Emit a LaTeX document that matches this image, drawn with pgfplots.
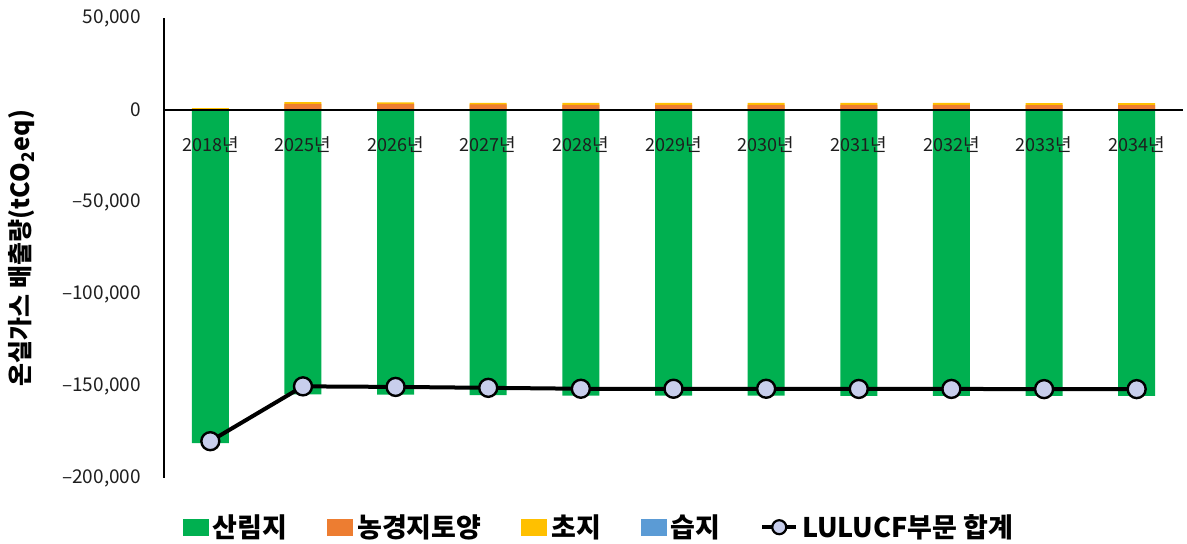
\documentclass[border=0pt]{standalone}
\usepackage{fontspec}
\setmainfont{Noto Sans CJK KR}
\usepackage{pgfplots}
\pgfplotsset{compat=1.18}
\usepackage{pgfplotstable}
\definecolor{cgreen}{HTML}{00B050}
\definecolor{corange}{HTML}{ED7D31}
\definecolor{cyellow}{HTML}{FFC000}
\definecolor{cblue}{HTML}{5B9BD5}
\definecolor{clav}{RGB}{200,206,236}
\definecolor{cgrid}{RGB}{222,222,222}
\definecolor{ctext}{RGB}{30,30,30}

\pgfplotsset{
  base/.style={
    at={(82pt,33pt)}, anchor=south west,
    scale only axis, width=509.5pt, height=230pt,
    xmin=-0.5, xmax=10.5, ymin=-200000, ymax=50000,
    major tick length=0pt,
    xtick={0,...,10},
    ytick={-200000,-150000,-100000,-50000,0,50000},
    scaled y ticks=false,
    clip=false,
  }
}

\pgfplotstableread{
x g o y b t
0 -181000 300 700 0 -180000
1 -154500 3300 1000 0 -150200
2 -154700 3300 900 0 -150500
3 -154900 3000 900 0 -151000
4 -155300 2800 1000 0 -151500
5 -155300 2800 1000 0 -151500
6 -155300 2800 1000 0 -151500
7 -155400 2800 1000 0 -151600
8 -155400 2800 1000 0 -151600
9 -155400 2600 1100 0 -151700
10 -155400 2600 1100 0 -151700
}\data

\begin{document}
\begin{tikzpicture}
\path[use as bounding box] (0,0) rectangle (593.5pt,272pt);
\begin{axis}[base,
  axis lines=none,
  xticklabels={}, yticklabels={},
  ymajorgrids, grid style={cgrid, dashed, line width=0.6pt},
]
\addplot[ybar, bar width=18.5pt, bar shift=0pt, fill=cyellow, draw=none]
  table[x=x, y expr=\thisrow{o}+\thisrow{y}+\thisrow{b}] {\data};
\addplot[ybar, bar width=18.5pt, bar shift=0pt, fill=corange, draw=none]
  table[x=x, y=o] {\data};
\addplot[ybar, bar width=18.5pt, bar shift=0pt, fill=cgreen, draw=none]
  table[x=x, y=g] {\data};
\end{axis}
\begin{axis}[base,
  axis x line=middle, axis y line=left,
  axis line style={-, black, line width=0.8pt},
  xticklabels={2018년,2025년,2026년,2027년,2028년,2029년,2030년,2031년,2032년,2033년,2034년},
  xticklabel style={font=\fontsize{9}{9}\selectfont, text=ctext, anchor=center, yshift=-17.5pt},
  yticklabels={{–200,000},{–150,000},{–100,000},{–50,000},{0},{50,000}},
  yticklabel style={font=\fontsize{9.5}{9.5}\selectfont, text=ctext, xshift=-8pt},
  ylabel={온실가스 배출량(tCO\textsubscript{2}eq)},
  every axis y label/.style={at={(axis description cs:-0.1394,0.5)}, rotate=90, anchor=center, font=\bfseries\fontsize{12.5}{12.5}\selectfont},
  legend style={font=\bfseries\fontsize{13.5}{13.5}\selectfont, draw=none, fill=none, legend columns=5,
    /tikz/every even column/.append style={column sep=18pt},
    at={(0.428,-0.107)}, anchor=center},
  legend cell align=left,
]
\addlegendimage{legend image code/.code={\fill[cgreen] (0pt,-4pt) rectangle (12.5pt,4pt);}}
\addlegendentry{산림지}
\addlegendimage{legend image code/.code={\fill[corange] (0pt,-4pt) rectangle (12.5pt,4pt);}}
\addlegendentry{농경지토양}
\addlegendimage{legend image code/.code={\fill[cyellow] (0pt,-4pt) rectangle (12.5pt,4pt);}}
\addlegendentry{초지}
\addlegendimage{legend image code/.code={\fill[cblue] (0pt,-4pt) rectangle (12.5pt,4pt);}}
\addlegendentry{습지}
\addlegendimage{black, line width=1.8pt, mark=*, mark size=3.5pt, mark options={fill=clav, line width=1.1pt}}
\addlegendentry{LULUCF부문 합계}
\addplot[black, line width=2pt, mark=*, mark size=4.5pt, mark options={fill=clav, line width=1.2pt}, forget plot]
  table[x=x, y=t] {\data};
\end{axis}
\end{tikzpicture}
\end{document}
